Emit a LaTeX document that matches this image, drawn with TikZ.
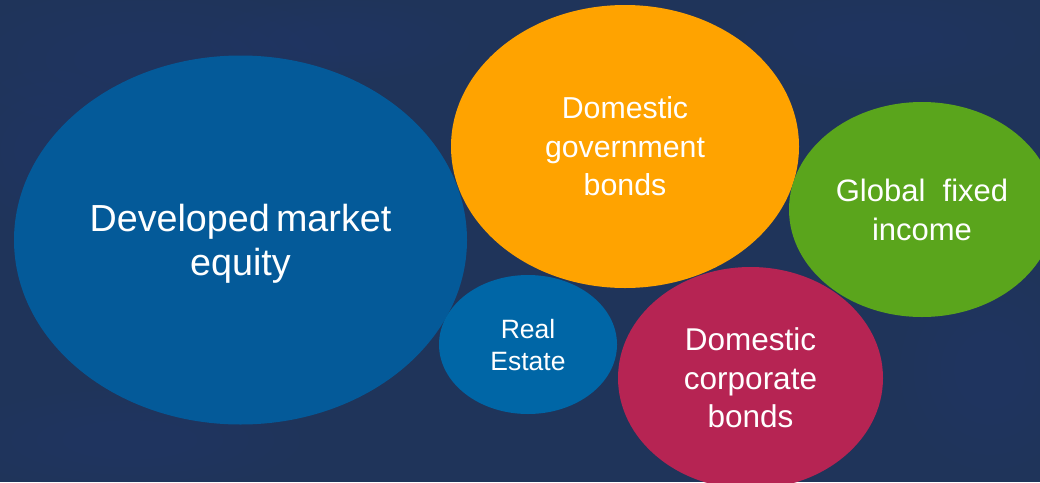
\documentclass[tikz,border=0pt]{standalone}
\usepackage{fontspec}
\setmainfont{Liberation Sans}
\usetikzlibrary{shapes.geometric}

\definecolor{bgnavy}{HTML}{1F345A}
\definecolor{bglight}{HTML}{3C5C8C}
\definecolor{equityblue}{HTML}{045A99}
\definecolor{realblue}{HTML}{0066A6}
\definecolor{govorange}{HTML}{FFA300}
\definecolor{globalgreen}{HTML}{5AA51C}
\definecolor{corpcrimson}{HTML}{B62453}

\tikzset{
  bubble/.style={ellipse, inner sep=0pt, outer sep=0pt, draw=none,
                 text=white, align=center, text depth=0pt},
  haze/.style={fill=bglight, fill opacity=0.025, draw=none}
}

% a soft cloud patch: concentric faint ellipses
\newcommand{\softpatch}[4]{%
  \foreach \k in {1.0,0.85,0.7,0.55,0.4}
    \fill[haze] (#1,#2) ellipse ({#3*\k} and {#4*\k});%
}

\begin{document}
\begin{tikzpicture}[x=1pt, y=-1pt]
  % backdrop
  \fill[bgnavy] (0,0) rectangle (1040,482);
  \useasboundingbox (0,0) rectangle (1040,482);
  % faint cloud patches in the backdrop
  \softpatch{150}{60}{190}{70}
  \softpatch{50}{150}{90}{80}
  \softpatch{340}{40}{130}{40}
  \softpatch{880}{40}{160}{50}
  \softpatch{990}{370}{90}{100}
  \softpatch{130}{440}{170}{50}

  % asset-class bubbles
  \node[bubble, fill=equityblue, minimum width=453, minimum height=369,
        font=\fontsize{37.7}{44}\selectfont] (equity) at (240.5,240)
        {Developed\,market\\equity};
  \node[bubble, fill=govorange, minimum width=348, minimum height=283,
        font=\fontsize{30.3}{38.5}\selectfont] (gov) at (625,146.5)
        {Domestic\\government\\bonds};
  \node[bubble, fill=globalgreen, minimum width=266, minimum height=215,
        font=\fontsize{31}{39}\selectfont] (global) at (922,209.5)
        {Global\ \ fixed\\income};
  \node[bubble, fill=realblue, minimum width=178, minimum height=139,
        font=\fontsize{26.5}{32}\selectfont] (realestate) at (528,344.5)
        {Real\\Estate};
  \node[bubble, fill=corpcrimson, minimum width=265, minimum height=222,
        font=\fontsize{31.5}{38.5}\selectfont] (corp) at (750.5,378)
        {Domestic\\corporate\\bonds};
\end{tikzpicture}
\end{document}
